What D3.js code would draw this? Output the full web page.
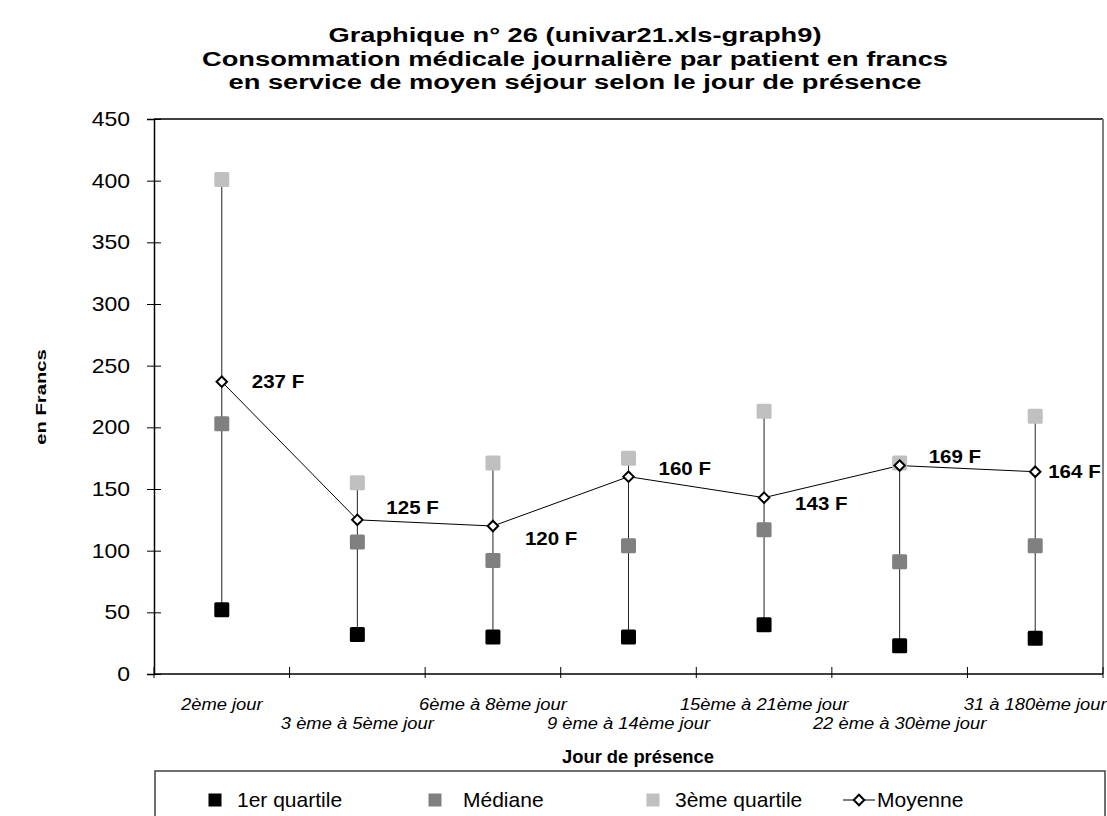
<!DOCTYPE html>
<html>
<head>
<meta charset="utf-8">
<script src="https://cdn.jsdelivr.net/npm/d3@7"></script>
<style>
  body { margin: 0; background: #fff; }
  svg { display: block; font-family: "Liberation Sans", Arial, sans-serif; }
</style>
</head>
<body>
<div id="main"></div>
<script>
const categories = [
  "2ème jour",
  "3 ème à 5ème jour",
  "6ème à 8ème jour",
  "9 ème à 14ème jour",
  "15ème à 21ème jour",
  "22 ème à 30ème jour",
  "31 à 180ème jour",
];
const q1 = [52, 32, 30, 30, 40, 23, 29];
const median = [203, 107, 92, 104, 117, 91, 104];
const q3 = [401, 155, 171, 175, 213, 171, 209];
const mean = [237, 125, 120, 160, 143, 169, 164];
const yTicks = [0, 50, 100, 150, 200, 250, 300, 350, 400, 450];

const titleLines = [
  "Graphique n° 26 (univar21.xls-graph9)",
  "Consommation médicale journalière par patient en francs",
  "en service de moyen séjour selon le jour de présence",
];
const legendLabels = ["1er quartile", "Médiane", "3ème quartile", "Moyenne"];

// label placement around each mean marker (dx, dy in px)
const labelOffsets = [
  [30, 0], [29, -12], [32, 12], [30, -8], [31, 6], [29, -9], [13, 0],
];

const W = 1107;
const H = 816;
const PLOT = { left: 154, right: 1103, top: 119, bottom: 674 };

const svg = d3
  .select("#main")
  .append("svg")
  .attr("width", W)
  .attr("height", H);

// the source text is a bit wider than Arial at its height: stretch it horizontally
function stretch(sel, sx) {
  sel.each(function () {
    const t = d3.select(this);
    const tx = +t.attr("x") || 0;
    const ty = +t.attr("y") || 0;
    const rot = t.attr("data-rot");
    t.attr("x", 0)
      .attr("y", 0)
      .attr("transform", `translate(${tx},${ty})${rot ? ` rotate(${rot})` : ""} scale(${sx},1)`);
  });
}

const x = d3.scaleBand().domain(categories).range([PLOT.left, PLOT.right]).padding(0);
const y = d3.scaleLinear().domain([0, 450]).range([PLOT.bottom, PLOT.top]);

// title
svg
  .append("g")
  .selectAll("text")
  .data(titleLines)
  .join("text")
  .attr("x", 575)
  .attr("y", (d, i) => 42 + i * 23.5)
  .attr("text-anchor", "middle")
  .attr("font-weight", "bold")
  .attr("font-size", 21)
  .text((d) => d)
  .call(stretch, 1.3);

// frame: top black, right grey
svg
  .append("line")
  .attr("x1", PLOT.left)
  .attr("x2", PLOT.right)
  .attr("y1", PLOT.top)
  .attr("y2", PLOT.top)
  .attr("stroke", "#000")
  .attr("stroke-width", 1.5);
svg
  .append("line")
  .attr("x1", PLOT.right)
  .attr("x2", PLOT.right)
  .attr("y1", PLOT.top)
  .attr("y2", PLOT.bottom)
  .attr("stroke", "#808080")
  .attr("stroke-width", 2);

// y axis
const yAxis = svg
  .append("g")
  .attr("transform", `translate(${PLOT.left},0)`)
  .call(d3.axisLeft(y).tickValues(yTicks).tickSize(7).tickPadding(17));
yAxis.select(".domain").attr("stroke-width", 1.5);
yAxis.selectAll(".tick line").attr("x2", -7).attr("x1", 7);
yAxis
  .selectAll(".tick text")
  .attr("font-size", 20)
  .attr("font-family", "Liberation Sans, Arial, sans-serif")
  .attr("fill", "#000")
  .attr("transform", "scale(1.15,1)")
  .attr("x", -24 / 1.15);

// x axis: ticks on category boundaries
const xAxis = svg.append("g").attr("transform", `translate(0,${PLOT.bottom})`);
xAxis
  .append("line")
  .attr("x1", PLOT.left)
  .attr("x2", PLOT.right)
  .attr("stroke", "#000")
  .attr("stroke-width", 1.5);
const bounds = categories.map((c) => x(c)).concat([PLOT.right]);
xAxis
  .selectAll(".xtick")
  .data(bounds)
  .join("line")
  .attr("class", "xtick")
  .attr("x1", (d) => d)
  .attr("x2", (d) => d)
  .attr("y1", -7)
  .attr("y2", 4)
  .attr("stroke", "#000");
xAxis
  .selectAll(".xlabel")
  .data(categories)
  .join("text")
  .attr("class", "xlabel")
  .attr("x", (d) => x(d) + x.bandwidth() / 2)
  .attr("y", (d, i) => (i % 2 === 0 ? 36 : 55))
  .attr("text-anchor", "middle")
  .attr("font-style", "italic")
  .attr("font-size", 17)
  .text((d) => d)
  .call(stretch, 1.08);

// axis titles
svg
  .append("text")
  .attr("x", 638)
  .attr("y", 763)
  .attr("text-anchor", "middle")
  .attr("font-weight", "bold")
  .attr("font-size", 18)
  .text("Jour de présence")
  .call(stretch, 1.02);
svg
  .append("text")
  .attr("x", 46)
  .attr("y", 397)
  .attr("data-rot", -90)
  .attr("text-anchor", "middle")
  .attr("font-weight", "bold")
  .attr("font-size", 15)
  .text("en Francs")
  .call(stretch, 1.35);

const cx = (i) => x(categories[i]) + x.bandwidth() / 2;

// high-low lines
svg
  .append("g")
  .selectAll("line")
  .data(categories)
  .join("line")
  .attr("x1", (d, i) => cx(i))
  .attr("x2", (d, i) => cx(i))
  .attr("y1", (d, i) => y(q1[i]))
  .attr("y2", (d, i) => y(q3[i]))
  .attr("stroke", "#222")
  .attr("stroke-width", 1);

// mean line
svg
  .append("path")
  .datum(mean)
  .attr("fill", "none")
  .attr("stroke", "#000")
  .attr("stroke-width", 1)
  .attr("d", d3.line().x((d, i) => cx(i)).y((d) => y(d)));

const SQ = 15;
const squareSeries = [
  { values: q3, color: "#c0c0c0" },
  { values: median, color: "#808080" },
  { values: q1, color: "#000000" },
];
squareSeries.forEach((s) => {
  svg
    .append("g")
    .selectAll("rect")
    .data(s.values)
    .join("rect")
    .attr("x", (d, i) => cx(i) - SQ / 2)
    .attr("y", (d) => y(d) - SQ / 2)
    .attr("width", SQ)
    .attr("height", SQ)
    .attr("rx", 1.5)
    .attr("fill", s.color);
});

// mean diamonds
const diamond = d3.symbol().type(d3.symbolDiamond2).size(70);
svg
  .append("g")
  .selectAll("path")
  .data(mean)
  .join("path")
  .attr("transform", (d, i) => `translate(${cx(i)},${y(d)})`)
  .attr("d", diamond)
  .attr("fill", "#fff")
  .attr("stroke", "#000")
  .attr("stroke-width", 2);

// mean labels
svg
  .append("g")
  .selectAll("text")
  .data(mean)
  .join("text")
  .attr("x", (d, i) => cx(i) + labelOffsets[i][0])
  .attr("y", (d, i) => y(d) + labelOffsets[i][1])
  .attr("dy", "0.35em")
  .attr("font-weight", "bold")
  .attr("font-size", 19)
  .text((d) => `${d} F`)
  .call(stretch, 1.08);

// legend
const legend = svg.append("g");
legend
  .append("rect")
  .attr("x", 155)
  .attr("y", 771)
  .attr("width", 1105 - 155)
  .attr("height", 60)
  .attr("fill", "none")
  .attr("stroke", "#404040")
  .attr("stroke-width", 1.5);

const legendY = 800;
const legendSwatch = [
  { color: "#000000", x: 215, tx: 237 },
  { color: "#808080", x: 435, tx: 463 },
  { color: "#c0c0c0", x: 653, tx: 675 },
];
legendSwatch.forEach((it, i) => {
  legend
    .append("rect")
    .attr("x", it.x - 6.5)
    .attr("y", legendY - 6.5)
    .attr("width", 13)
    .attr("height", 13)
    .attr("fill", it.color);
  legend
    .append("text")
    .attr("x", it.tx)
    .attr("y", legendY + 7)
    .attr("font-size", 21)
    .text(legendLabels[i]);
});
legend
  .append("line")
  .attr("x1", 843)
  .attr("x2", 875)
  .attr("y1", legendY)
  .attr("y2", legendY)
  .attr("stroke", "#000");
legend
  .append("path")
  .attr("transform", `translate(859,${legendY})`)
  .attr("d", diamond)
  .attr("fill", "#fff")
  .attr("stroke", "#000")
  .attr("stroke-width", 2);
legend
  .append("text")
  .attr("x", 877)
  .attr("y", legendY + 7)
  .attr("font-size", 21)
  .text(legendLabels[3]);
</script>
</body>
</html>
